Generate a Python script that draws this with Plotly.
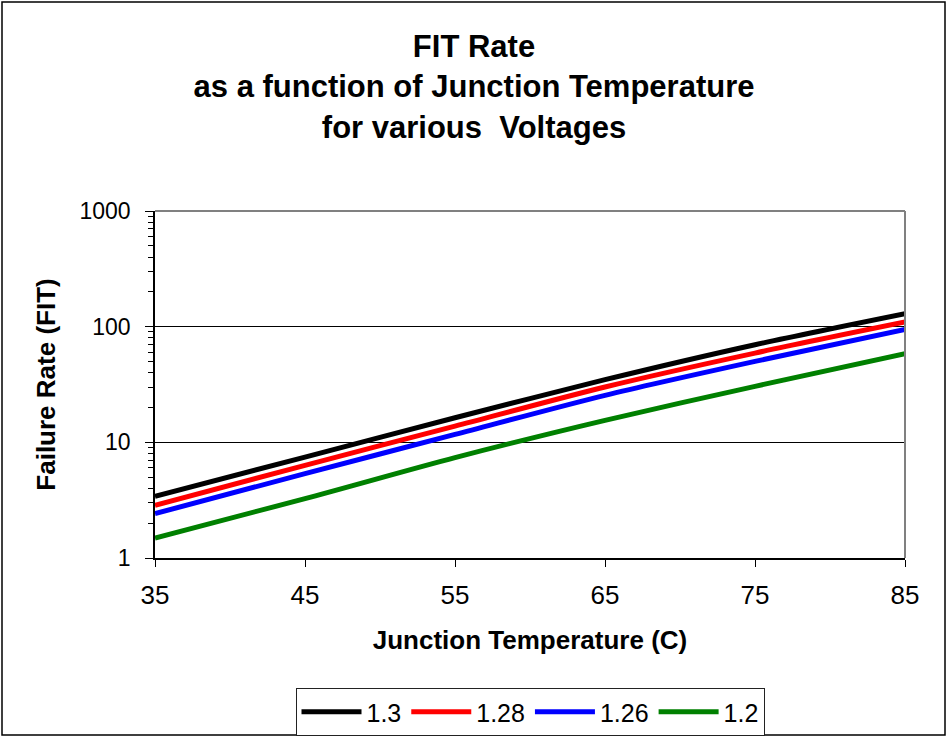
import plotly.graph_objects as go

temps = [35, 45, 55, 65, 75, 85]
series_names = ["1.3", "1.28", "1.26", "1.2"]
fit_13 = [3.41, 7.46, 16.3, 34.8, 69.8, 129.5]
fit_128 = [2.85, 6.33, 13.8, 30.1, 59.1, 109.6]
fit_126 = [2.42, 5.36, 11.7, 25.5, 50.1, 94.8]
fit_12 = [1.49, 3.26, 7.38, 15.5, 30.5, 58.4]
colors = ["#000000", "#ff0000", "#0000ff", "#008000"]
y_ticks = [1, 10, 100, 1000]
y_minor_ticks = [m * d for d in (1, 10, 100) for m in range(2, 10)]
x_ticks = [35, 45, 55, 65, 75, 85]

FONT = "Liberation Sans, Arial, sans-serif"

fig = go.Figure()
for name, vals, col in zip(series_names, [fit_13, fit_128, fit_126, fit_12], colors):
    fig.add_trace(go.Scatter(x=temps, y=vals, mode="lines", name=name,
                             line=dict(color=col, width=5, shape="spline", smoothing=0.8)))

W, H = 948, 738
L, R, T, B = 155, 43, 211, 180
pw, ph = W - L - R, H - T - B

def px2paper_x(px):
    return (px - L) / pw

def px2paper_y(py):
    return (H - B - py) / ph

fig.update_layout(
    width=W, height=H,
    margin=dict(l=L, r=R, t=T, b=B, pad=0, autoexpand=False),
    paper_bgcolor="white", plot_bgcolor="white",
    font=dict(family=FONT, color="black", size=22),
    title=dict(text="<b>FIT Rate<br>as a function of Junction Temperature<br>for various  Voltages</b>",
               x=474 / W, xref="container", xanchor="center",
               y=1 - 57 / H, yref="container", yanchor="middle",
               font=dict(family=FONT, size=31, color="black")),
    showlegend=True,
    legend=dict(orientation="h", x=0.5, xanchor="center",
                y=1 - 688 / H, yref="container", yanchor="top",
                bordercolor="#222222", borderwidth=1, bgcolor="white",
                font=dict(family=FONT, size=25), itemwidth=60, tracegroupgap=0),
)

fig.update_xaxes(
    range=[35, 85], tickvals=x_ticks, ticktext=[str(v) for v in x_ticks],
    showline=True, linecolor="black", linewidth=1.5, mirror=False,
    ticks="outside", ticklen=7, tickcolor="black", tickwidth=1,
    showgrid=False, zeroline=False, automargin=False,
    tickfont=dict(size=26), ticklabelstandoff=6,
    title=dict(text="<b>Junction Temperature (C)</b>", font=dict(size=26), standoff=22),
)
fig.update_yaxes(
    type="log", range=[0, 3], tickvals=y_ticks, ticktext=[str(v) for v in y_ticks],
    showline=True, linecolor="black", linewidth=1.5, mirror=False,
    ticks="outside", ticklen=8, tickcolor="black", tickwidth=1,
    showgrid=True, gridcolor="black", gridwidth=1,
    zeroline=False, automargin=False,
    minor=dict(tickvals=y_minor_ticks, ticks="outside", ticklen=5, tickcolor="black",
               tickwidth=1, showgrid=False),
    tickfont=dict(size=23), ticklabelstandoff=10,
    title=dict(text="<b>Failure Rate (FIT)</b>", font=dict(size=26), standoff=16),
)

# gray plot-area border on top and right
fig.add_shape(type="line", xref="paper", yref="paper", x0=0, x1=1, y0=1, y1=1,
              line=dict(color="#808080", width=2))
fig.add_shape(type="line", xref="paper", yref="paper", x0=1, x1=1, y0=0, y1=1,
              line=dict(color="#808080", width=2))
# outer chart border
fig.add_shape(type="rect", xref="paper", yref="paper",
              x0=px2paper_x(2), x1=px2paper_x(945), y0=px2paper_y(735), y1=px2paper_y(2),
              line=dict(color="black", width=1.5), layer="below")

fig.write_html("out.html", config={"displayModeBar": False},
               post_script="document.body.style.margin='0';document.body.style.overflow='hidden';")
